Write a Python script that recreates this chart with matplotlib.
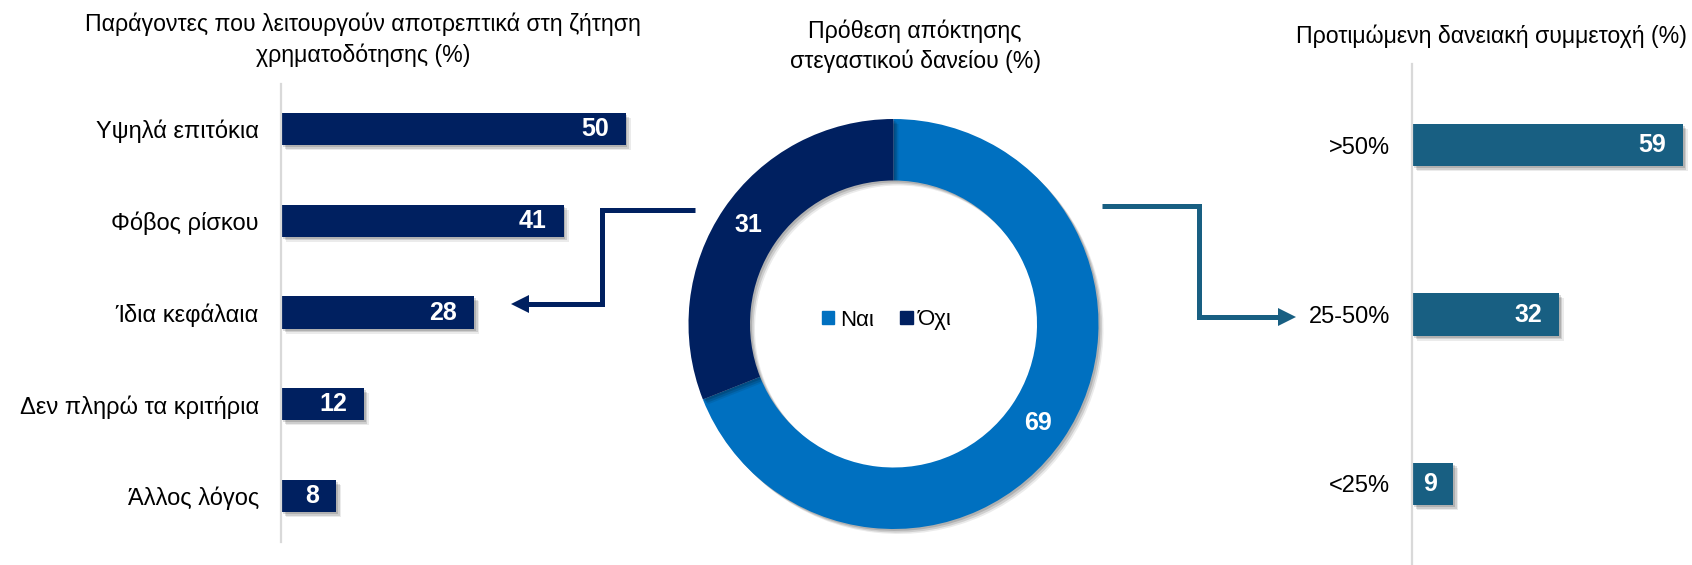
import matplotlib
matplotlib.use('Agg')
import matplotlib.pyplot as plt
from matplotlib import patheffects as pe
from matplotlib.patches import Polygon, Patch

plt.rcParams['font.family'] = ['Liberation Sans', 'DejaVu Sans']

# ---------------- data ----------------
left_title = 'Παράγοντες που λειτουργούν αποτρεπτικά στη ζήτηση\nχρηματοδότησης (%)'
left_cats = ['Υψηλά επιτόκια', 'Φόβος ρίσκου', 'Ίδια κεφάλαια', 'Δεν πληρώ τα κριτήρια', 'Άλλος λόγος']
left_vals = [50, 41, 28, 12, 8]

mid_title = 'Πρόθεση απόκτησης\nστεγαστικού δανείου (%)'
donut_labels = ['Ναι', 'Όχι']
donut_vals = [69, 31]

right_title = 'Προτιμώμενη δανειακή συμμετοχή (%)'
right_cats = ['>50%', '25-50%', '<25%']
right_vals = [59, 32, 9]

# ---------------- style ----------------
NAVY = '#002060'
BLUE = '#0070C0'
TEAL = '#185F82'
GRID = '#D9D9D9'

W, H = 1692, 565
fig = plt.figure(figsize=(W / 100, H / 100), dpi=100)


def box(x0, y0, x1, y1):
    return [x0 / W, 1 - y1 / H, (x1 - x0) / W, (y1 - y0) / H]


shadow = [pe.SimplePatchShadow(offset=(3.6, -3.6), shadow_rgbFace='k', alpha=0.08),
          pe.SimplePatchShadow(offset=(2.6, -2.6), shadow_rgbFace='k', alpha=0.12),
          pe.SimplePatchShadow(offset=(1.4, -1.4), shadow_rgbFace='k', alpha=0.14),
          pe.Normal()]


def barpanel(ax, cats, vals, color, xmax, ylim, height):
    ypos = list(range(len(cats)))
    bars = ax.barh(ypos, vals, height=height, color=color, zorder=3)
    for b in bars:
        b.set_path_effects(shadow)
    ax.set_xlim(0, xmax)
    ax.set_ylim(*ylim)
    ax.set_yticks(ypos)
    ax.set_yticklabels(cats, fontsize=17, color='#000000')
    ax.tick_params(axis='y', length=0, pad=16)
    ax.set_xticks([])
    for s in ['top', 'right', 'bottom']:
        ax.spines[s].set_visible(False)
    ax.spines['left'].set_color(GRID)
    ax.spines['left'].set_linewidth(1.6)
    ax.spines['left'].set_zorder(4)
    ax.patch.set_alpha(0)
    for y, v in zip(ypos, vals):
        ax.annotate(f'{v}', (v, y), xytext=(-12, 0), textcoords='offset points',
                    ha='right', va='center', color='white', fontsize=18,
                    fontweight='bold', zorder=5)


# left panel
axL = fig.add_axes(box(281, 84, 660, 542))
barpanel(axL, left_cats, left_vals, NAVY, 55, (4.5, -0.49), 0.35)

# right panel
axR = fig.add_axes(box(1412, 64, 1692, 565))
barpanel(axR, right_cats, right_vals, TEAL, 280 / 4.59, (2.48, -0.48), 0.25)

# donut
axD = fig.add_axes(box(688.5, 119, 1098.5, 529))
wedges, _, autotexts = axD.pie(donut_vals, colors=[BLUE, NAVY], startangle=90,
                               counterclock=False, radius=1,
                               wedgeprops=dict(width=0.30, linewidth=0),
                               autopct='%.0f', pctdistance=0.855,
                               textprops=dict(color='white', fontsize=18, fontweight='bold'))
for w in wedges:
    w.set_path_effects(shadow)
axD.set_xlim(-1, 1)
axD.set_ylim(-1, 1)
axD.set_aspect('equal')
axD.axis('off')

fig.legend(handles=[Patch(color=BLUE, label=donut_labels[0]),
                    Patch(color=NAVY, label=donut_labels[1])],
           loc='center', bbox_to_anchor=(887 / W, 1 - 320 / H), ncol=2, frameon=False,
           fontsize=16, handlelength=0.55, handleheight=0.55, handletextpad=0.25,
           columnspacing=1.2)

# titles
fig.text(363 / W, 1 - 40 / H, left_title, ha='center', va='center', fontsize=16.7,
         linespacing=1.42)
fig.text(915 / W, 1 - 46.5 / H, mid_title, ha='center', va='center', fontsize=16.7,
         linespacing=1.33)
fig.text(1491 / W, 1 - 36 / H, right_title, ha='center', va='center', fontsize=16.7)

# connector arrows (overlay in pixel units)
ov = fig.add_axes([0, 0, 1, 1])
ov.set_xlim(0, W)
ov.set_ylim(H, 0)
ov.axis('off')
ov.patch.set_alpha(0)


def elbow_arrow(xs, ys, tip, color):
    ov.plot(xs, ys, color=color, lw=3.6, solid_joinstyle='miter', solid_capstyle='butt')
    tx, ty = tip
    d = 1 if tx > xs[-1] else -1
    base = tx - d * 18
    ov.add_patch(Polygon([(tx, ty), (base, ty - 9), (base, ty + 9)], closed=True,
                         color=color, lw=0))


elbow_arrow([695, 602, 602, 527], [210, 210, 304, 304], (511, 304), NAVY)
elbow_arrow([1102, 1199, 1199, 1280], [206, 206, 317, 317], (1296, 317), TEAL)

fig.savefig('out.png', dpi=100)
